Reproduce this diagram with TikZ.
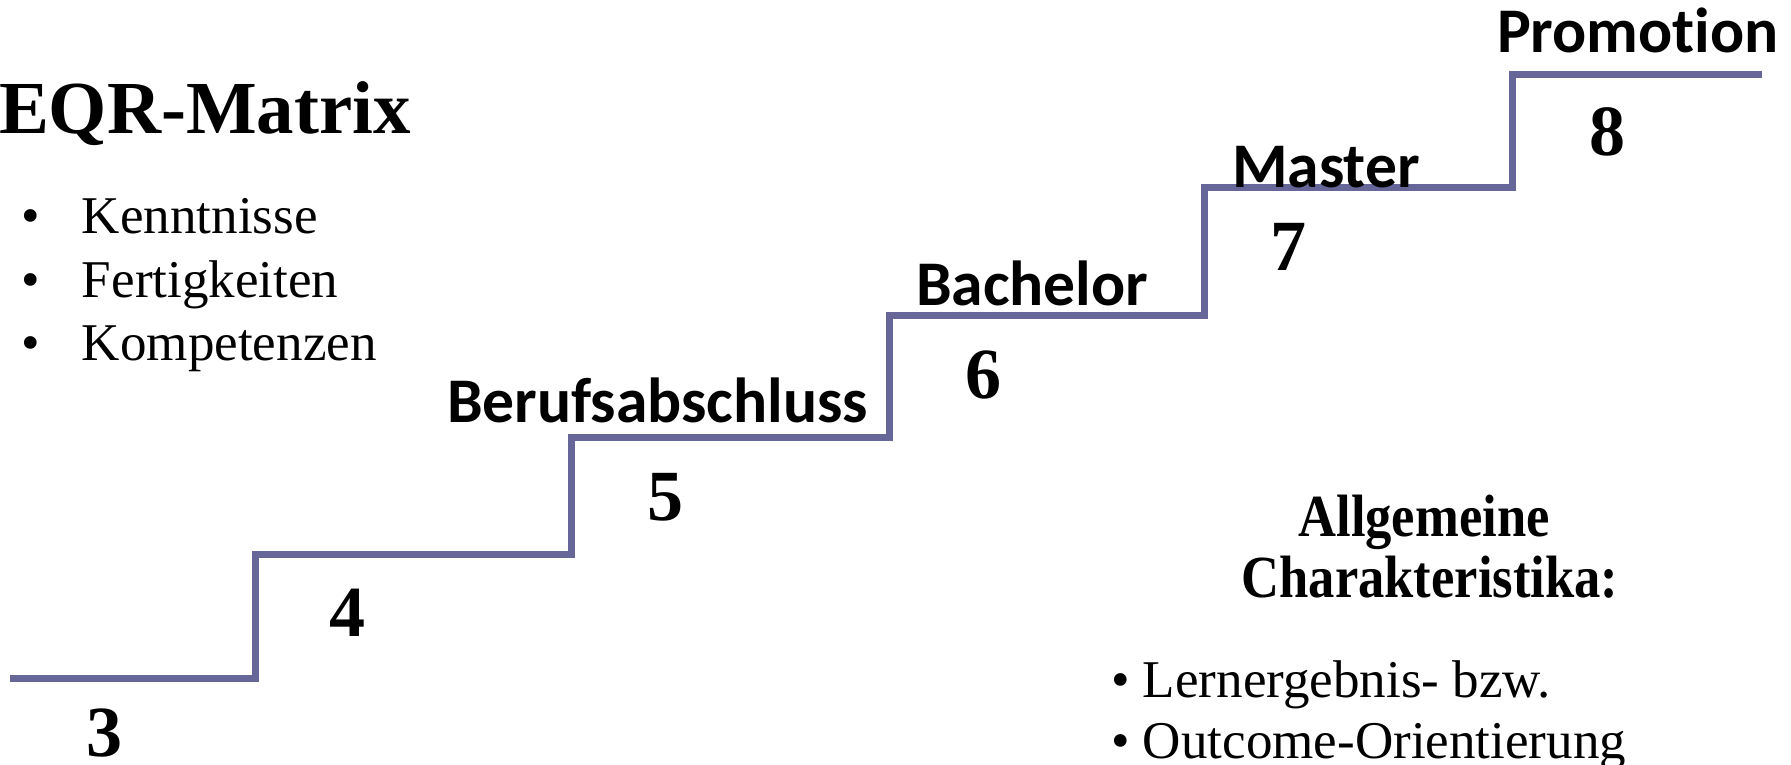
\documentclass[tikz,border=0pt]{standalone}
\usepackage{fontspec}
\setmainfont{Liberation Serif}
\newfontfamily\levelfont[Ligatures=NoCommon]{Carlito}
\newfontfamily\narrowserif[FakeStretch=0.88]{Liberation Serif}
\usetikzlibrary{positioning}
\definecolor{stairblue}{RGB}{102,102,153}
\tikzset{
	textnode/.style = {
		inner sep=0pt,
		outer sep=0pt,
		anchor=base west
	},
	node_title/.style = {
		textnode,
		font=\fontsize{21.3pt}{25pt}\selectfont\bfseries
	},
	node_item/.style = {
		textnode,
		font=\fontsize{15.1pt}{18pt}\selectfont
	},
	node_level/.style = {
		textnode,
		font=\levelfont\fontsize{18.1pt}{21pt}\selectfont\bfseries
	},
	node_digit/.style = {
		textnode,
		anchor=base,
		font=\fontsize{20.5pt}{24pt}\selectfont\bfseries
	},
	node_head/.style = {
		textnode,
		anchor=base,
		font=\narrowserif\fontsize{17pt}{19pt}\selectfont\bfseries
	},
	stair_line/.style = {
		draw=stairblue,
		line width=0.7mm,
		line join=miter
	},
}

\begin{document}
\begin{tikzpicture}[x=0.1mm,y=-0.1mm]
\useasboundingbox (0,0) rectangle (1791,764);
\coordinate (s3) at (10,678);
\coordinate (s4) at (255,554);
\coordinate (s5) at (571,437);
\coordinate (s6) at (889,315);
\coordinate (s7) at (1204,187);
\coordinate (s8) at (1512,74);
\coordinate (top) at (1762,74);
\path[stair_line] (s3) -| (s4) -| (s5) -| (s6) -| (s7) -| (s8) -- (top);

\node [node_title] (title) at (-1,133) {EQR-Matrix};
\node [node_item] (kenntnisse) at (22,233) {\makebox[6mm][l]{\textbullet}Kenntnisse};
\node [node_item] (fertigkeiten) at (22,297) {\makebox[6mm][l]{\textbullet}Fertigkeiten};
\node [node_item] (kompetenzen) at (22,360) {\makebox[6mm][l]{\textbullet}Kompetenzen};

\node [node_digit] (d3) at (105,756) {3};
\node [node_digit] (d4) at (348,636) {4};
\node [node_digit] (d5) at (666,520) {5};
\node [node_digit] (d6) at (983,398) {6};
\node [node_digit] (d7) at (1288,270) {7};
\node [node_digit] (d8) at (1607,155) {8};

\node [node_level] (beruf) at (447,422) {Berufsabschluss};
\node [node_level] (bachelor) at (916,305) {Bachelor};
\node [node_level] (master) at (1232,187) {Master};
\node [node_level] (promotion) at (1497,52) {Promotion};

\node [node_head] (head1) at (1424,536) {Allgemeine};
\node [node_head] (head2) at (1430,597) {Charakteristika:};
\node [node_item] (lern) at (1111,697) {\textbullet{} Lernergebnis- bzw.};
\node [node_item] (outcome) at (1111,758) {\textbullet{} Outcome-Orientierung};
\end{tikzpicture}
\end{document}
